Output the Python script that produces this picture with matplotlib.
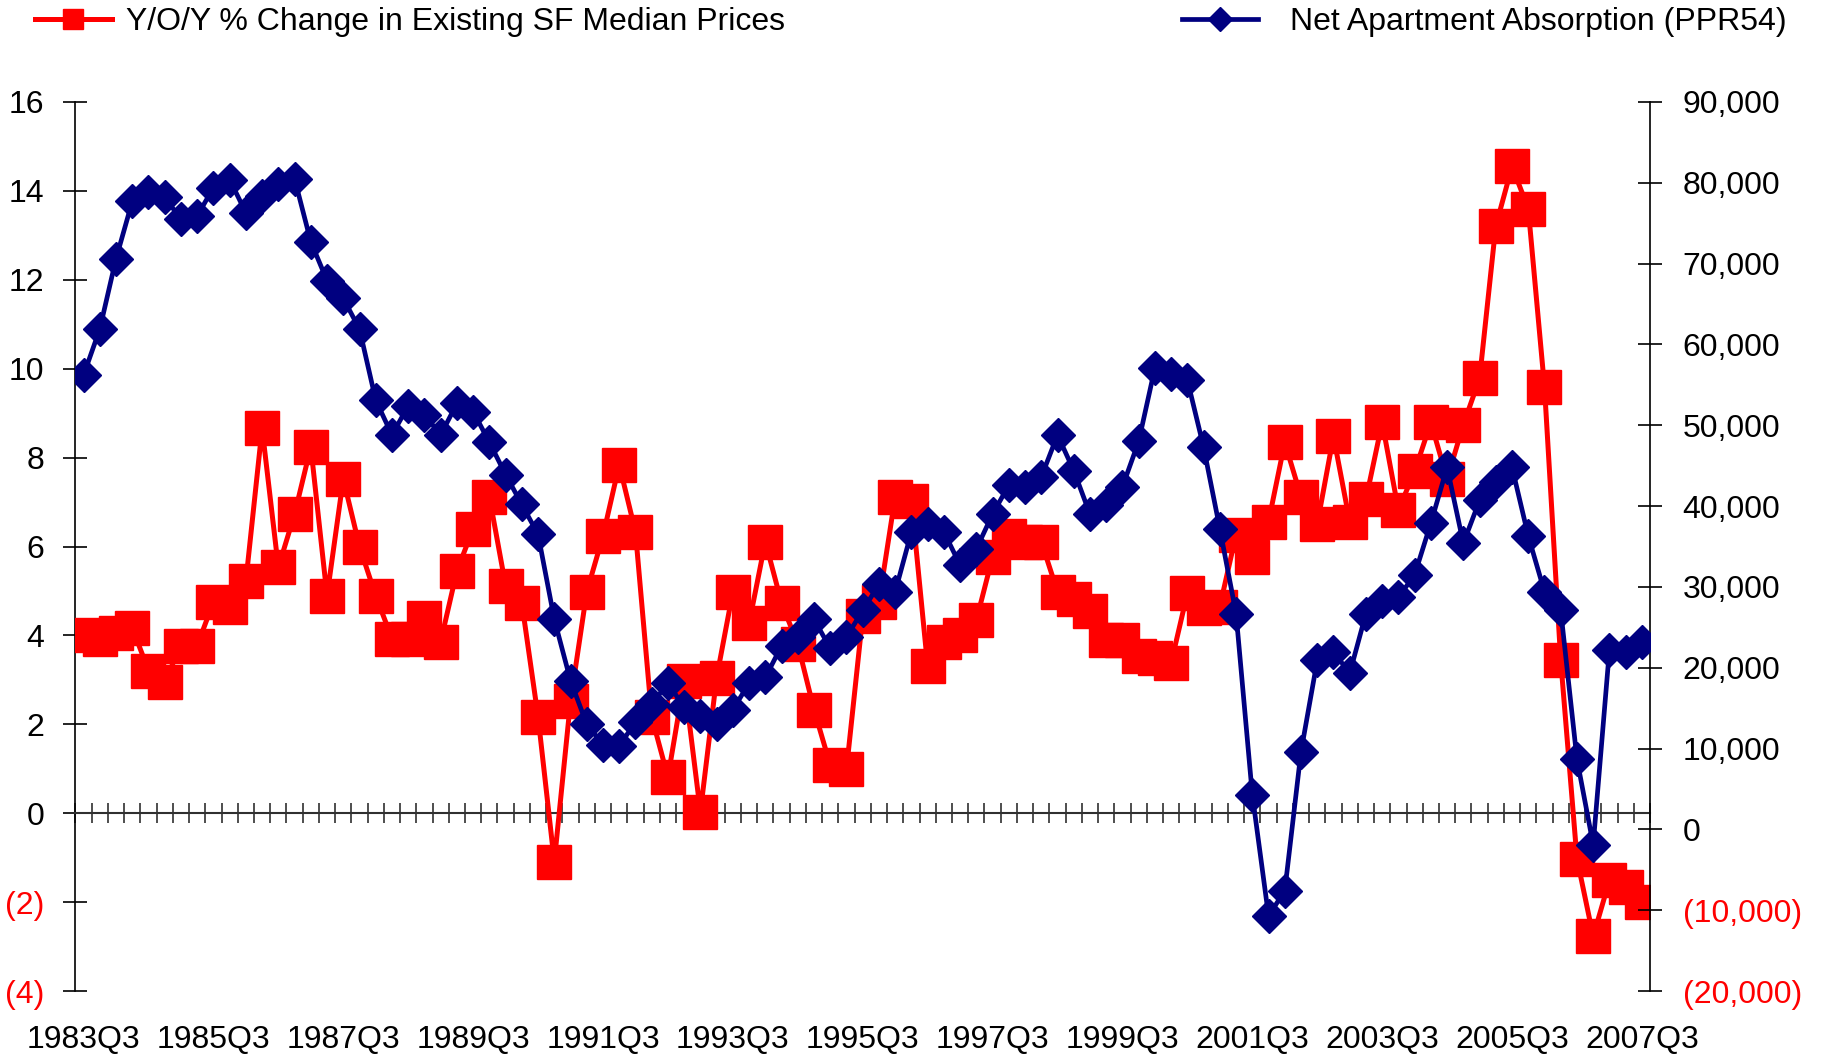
import matplotlib
matplotlib.use("Agg")
import matplotlib.pyplot as plt
import matplotlib.transforms as mtransforms
from matplotlib.lines import Line2D

# quarterly categories 1983Q3 .. 2007Q3
quarters = []
for n in range(97):
    quarters.append(str(1983 + (2 + n) // 4) + "Q" + str((2 + n) % 4 + 1))

label_quarters = ["1983Q3", "1985Q3", "1987Q3", "1989Q3", "1991Q3", "1993Q3", "1995Q3",
                  "1997Q3", "1999Q3", "2001Q3", "2003Q3", "2005Q3", "2007Q3"]

# Y/O/Y % change in existing SF median prices (left axis)
price_change = [4.02, 3.93, 4.05, 4.17, 3.21, 2.96, 3.77, 3.77, 4.75, 4.65,
                5.22, 8.66, 5.53, 6.73, 8.24, 4.89, 7.52, 6.00, 4.89, 3.93,
                3.93, 4.40, 3.86, 5.45, 6.40, 7.12, 5.12, 4.73, 2.17, -1.09,
                2.52, 4.98, 6.24, 7.84, 6.33, 2.17, 0.81, 2.98, 0.03, 3.05,
                4.98, 4.27, 6.11, 4.73, 3.80, 2.33, 1.08, 0.99, 4.43, 4.76,
                7.12, 7.03, 3.31, 3.86, 4.00, 4.34, 5.77, 6.24, 6.11, 6.11,
                4.98, 4.82, 4.56, 3.90, 3.90, 3.53, 3.50, 3.38, 4.95, 4.61,
                4.65, 6.27, 5.77, 6.56, 8.34, 7.12, 6.50, 8.48, 6.56, 7.06,
                8.79, 6.82, 7.69, 8.79, 7.52, 8.74, 9.78, 13.21, 14.55, 13.60,
                9.59, 3.44, -1.02, -2.77, -1.51, -1.67, -2.00]

# net apartment absorption (right axis)
absorption = [56200, 61900, 70600, 77700, 78900, 78200, 75500, 75900, 79400, 80400,
              76300, 78400, 79800, 80500, 72700, 67900, 65700, 61900, 53100, 48800,
              52400, 51300, 48800, 52700, 51700, 47900, 43900, 40200, 36500, 26000,
              18400, 13000, 10500, 10300, 13300, 15500, 18100, 15100, 14000, 13000,
              14800, 18100, 18800, 22700, 23800, 26000, 22400, 23800, 27100, 30300,
              29400, 36800, 37800, 36800, 32700, 34700, 39000, 42600, 42400, 43600,
              48800, 44400, 39000, 40100, 42400, 48000, 57100, 56300, 55600, 47300,
              37200, 26700, 4300, -10700, -7600, 9600, 20900, 22000, 19300, 26700,
              28200, 28700, 31500, 37900, 44800, 35400, 40700, 43000, 44800, 36300,
              29400, 27100, 8700, -1900, 22200, 21900, 23200]

left_ticks = [-4, -2, 0, 2, 4, 6, 8, 10, 12, 14, 16]
right_ticks = [-20000, -10000, 0, 10000, 20000, 30000, 40000, 50000, 60000, 70000, 80000, 90000]

RED = "#FF0000"
NAVY = "#000080"
FS = 23

plt.rcParams["font.family"] = ["Liberation Sans", "DejaVu Sans"]


def paren(v, fmt):
    if v < 0:
        return "(" + fmt.format(-v) + ")"
    return fmt.format(v)


fig = plt.figure(figsize=(18.22, 10.58), dpi=100)
ax = fig.add_axes([0.0414, 0.0633, 0.8642, 0.8403])
xs = list(range(len(quarters)))

ax.plot(xs, price_change, color=RED, lw=3.6, marker="s", ms=25, mec=RED, zorder=3)
ax.set_xlim(-0.5, len(quarters) - 0.5)
ax.set_ylim(-4, 16)

ax2 = ax.twinx()
ax2.plot(xs, absorption, color=NAVY, lw=3.4, marker="D", ms=17.5, mec=NAVY, zorder=3)
ax2.set_ylim(-20000, 90000)

# spines
for s in ["top", "right"]:
    ax.spines[s].set_visible(False)
for s in ["top", "bottom", "left"]:
    ax2.spines[s].set_visible(False)
ax.spines["bottom"].set_position(("data", 0))
ax.spines["bottom"].set_color("#303030")
ax.spines["bottom"].set_linewidth(1.5)
ax.spines["left"].set_linewidth(1.2)
ax2.spines["right"].set_linewidth(1.2)

# quarter boundary ticks on the zero line
ax.set_xticks([k - 0.5 for k in range(len(quarters) + 1)])
ax.set_xticklabels([])
ax.tick_params(axis="x", direction="inout", length=15, width=1.2, color="#303030")

ax.set_yticks(left_ticks)
ax.set_yticklabels([paren(v, "{:d}") for v in left_ticks])
ax.tick_params(axis="y", direction="inout", length=17, width=1.2, labelsize=FS, pad=14)
for t, v in zip(ax.get_yticklabels(), left_ticks):
    t.set_color(RED if v < 0 else "black")

ax2.set_yticks(right_ticks)
ax2.set_yticklabels([paren(v, "{:,d}") for v in right_ticks])
ax2.tick_params(axis="y", direction="inout", length=17, width=1.2, labelsize=FS, pad=15)
for t, v in zip(ax2.get_yticklabels(), right_ticks):
    t.set_color(RED if v < 0 else "black")

# category labels along the bottom
trans = mtransforms.blended_transform_factory(ax.transData, ax.transAxes)
for lab in label_quarters:
    ax.text(quarters.index(lab), -0.055, lab, transform=trans, ha="center", va="center",
            fontsize=FS)

# legends at the top
h1 = Line2D([], [], color=RED, lw=3.6, marker="s", ms=15, mec=RED)
h2 = Line2D([], [], color=NAVY, lw=3.4, marker="D", ms=12, mec=NAVY)
fig.legend([h1], ["Y/O/Y % Change in Existing SF Median Prices"], loc="center left",
           bbox_to_anchor=(35 / 1822, 1 - 22 / 1058), frameon=False, fontsize=FS,
           handlelength=2.4, handletextpad=0.45, borderpad=0, borderaxespad=0)
fig.legend([h2], ["Net Apartment Absorption (PPR54)"], loc="center right",
           bbox_to_anchor=(1787 / 1822, 1 - 22 / 1058), frameon=False, fontsize=FS,
           handlelength=2.4, handletextpad=1.0, borderpad=0, borderaxespad=0)

fig.savefig("out.png", dpi=100)
